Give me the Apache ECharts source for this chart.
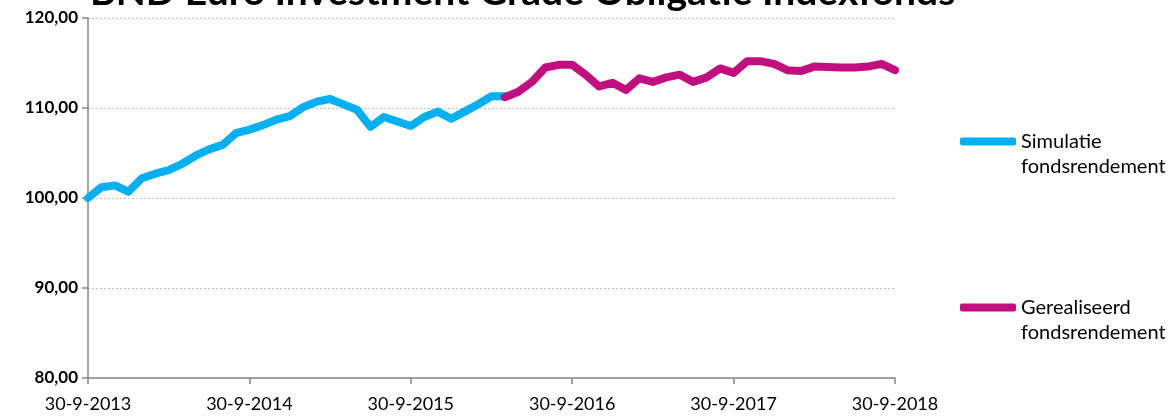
<!DOCTYPE html>
<html>
<head>
    <meta charset="utf-8" />
    <title>BND Euro Investment Grade Obligatie Indexfonds</title>
    <script src="https://cdn.jsdelivr.net/npm/echarts@6/dist/echarts.min.js"></script>
    <style>
        html, body { margin: 0; padding: 0; background: #fff; overflow: hidden; }
        #chart { width: 1171px; height: 416px; }
    </style>
</head>
<body>
    <div id="chart"></div>
    <script type="text/javascript">
        // month-end values, 30-9-2013 .. 30-4-2016
        var simulatie = [100.0, 101.2, 101.4, 100.7, 102.2, 102.7, 103.1, 103.8, 104.7, 105.4, 105.9, 107.2,
            107.6, 108.1, 108.7, 109.1, 110.1, 110.7, 111.0, 110.4, 109.8, 107.9, 109.0, 108.5,
            108.0, 109.0, 109.6, 108.8, 109.6, 110.4, 111.3, 111.3];
        // 30-4-2016 .. 30-9-2018
        var gerealiseerd = [111.2, 111.8, 112.9, 114.5, 114.8, 114.8, 113.7, 112.4, 112.8, 112.0, 113.3, 112.9,
            113.4, 113.7, 112.9, 113.4, 114.4, 113.9, 115.2, 115.2, 114.9, 114.2, 114.1, 114.6,
            114.55, 114.5, 114.5, 114.6, 114.9, 114.2];
        var gerealiseerdStart = 31;
        var seriesNames = ['Simulatie\nfondsrendement', 'Gerealiseerd\nfondsrendement'];
        var yTicks = [80, 90, 100, 110, 120];

        // monthly categories, end of month from sept 2013 to sept 2018
        var months = [];
        for (var i = 0; i <= 60; i++) {
            var d = new Date(2013, 9 + i, 0);
            months.push(d.getDate() + '-' + (d.getMonth() + 1) + '-' + d.getFullYear());
        }

        var chart = echarts.init(document.getElementById('chart'));
        var font = 'Lato, "Open Sans", sans-serif';

        var option = {
            animation: false,
            title: {
                text: 'BND Euro Investment Grade Obligatie Indexfonds',
                left: 90,
                top: -31,
                padding: 0,
                textStyle: { fontFamily: font, fontWeight: 'bold', fontSize: 39, lineHeight: 46, color: '#000' }
            },
            grid: { left: 88, right: 276, top: 18, bottom: 38, containLabel: false },
            legend: {
                orient: 'vertical',
                left: 960,
                top: 104,
                padding: 0,
                itemGap: 91,
                itemWidth: 56,
                itemHeight: 8,
                icon: 'roundRect',
                // blank first line keeps the icon level with the first text line
                formatter: function (name) { return ' \n' + name; },
                textStyle: { fontFamily: font, fontSize: 20, color: '#000', lineHeight: 25 },
                data: seriesNames
            },
            xAxis: {
                type: 'category',
                data: months,
                boundaryGap: false,
                axisLine: { lineStyle: { color: '#868686', width: 1.5 } },
                axisTick: {
                    alignWithLabel: true,
                    length: 6,
                    interval: function (idx) { return idx % 12 === 0; },
                    lineStyle: { color: '#868686', width: 1.5 }
                },
                axisLabel: {
                    interval: function (idx) { return idx % 12 === 0; },
                    fontFamily: font, fontSize: 18, color: '#000', margin: 17,
                    showMinLabel: true, showMaxLabel: true
                },
                splitLine: { show: false }
            },
            yAxis: {
                type: 'value',
                min: yTicks[0],
                max: yTicks[yTicks.length - 1],
                interval: 10,
                axisLine: { show: true, lineStyle: { color: '#868686', width: 1.5 } },
                axisTick: { show: true, length: 6, lineStyle: { color: '#868686', width: 1.5 } },
                axisLabel: {
                    fontFamily: font, fontSize: 17, fontWeight: 'bold', color: '#000', margin: 10,
                    formatter: function (v) { return v.toFixed(2).replace('.', ','); }
                },
                splitLine: { lineStyle: { color: '#BFBFBF', width: 1, type: [2, 2] } }
            },
            series: [{
                name: seriesNames[0],
                type: 'line',
                data: simulatie,
                showSymbol: false,
                symbol: 'none',
                color: '#00B0F0',
                lineStyle: { width: 8, cap: 'round', join: 'round' }
            }, {
                name: seriesNames[1],
                type: 'line',
                data: new Array(gerealiseerdStart).fill('-').concat(gerealiseerd),
                showSymbol: false,
                symbol: 'none',
                color: '#C20F80',
                lineStyle: { width: 8, cap: 'round', join: 'round' }
            }]
        };
        chart.setOption(option);
    </script>
</body>
</html>
